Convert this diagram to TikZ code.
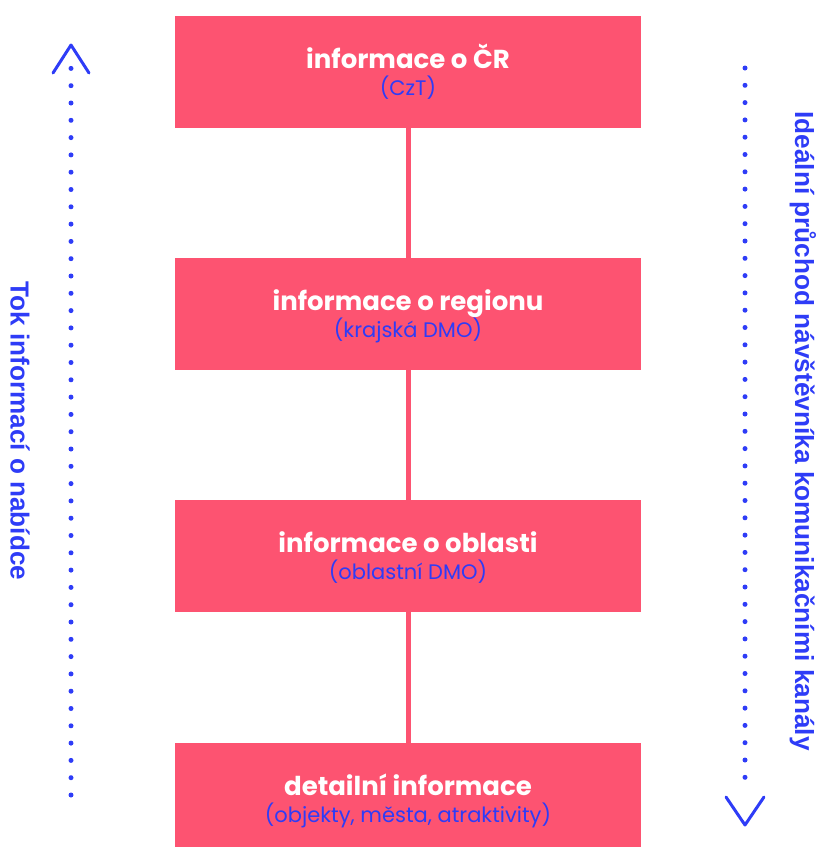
\documentclass[tikz,border=0pt]{standalone}
\usepackage{fontspec}
\setmainfont{Poppins}
\newfontfamily\sidefont{Liberation Sans}
\definecolor{boxpink}{HTML}{FD5371}
\definecolor{inkblue}{HTML}{2E3CF7}
\begin{document}
\begin{tikzpicture}[x=1pt,y=-1pt,
  infobox/.style={fill=boxpink, draw=none, minimum width=466pt, minimum height=112pt, inner sep=0pt},
  titletext/.style={text=white, anchor=base, inner sep=0pt, font=\fontsize{26}{30}\selectfont\bfseries},
  subtext/.style={text=inkblue, anchor=base, inner sep=0pt, font=\fontsize{21}{26}\selectfont},
  link/.style={draw=boxpink, line width=5pt},
  dots/.style={draw=inkblue, line width=5pt, line cap=round, dash pattern=on 0pt off 17.3pt},
  chev/.style={draw=inkblue, line width=3pt, line cap=round, line join=round},
  sidelabel/.style={text=inkblue, rotate=-90, inner sep=0pt}
]
\useasboundingbox (0,0) rectangle (819,847);
\node[infobox] (b1) at (408,72) {};
\node[infobox] (b2) at (408,314) {};
\node[infobox] (b3) at (408,556) {};
\node[infobox] (b4) at (408,799) {};
\node[titletext] (t1) at ([yshift=-53pt]b1.north) {informace o ČR};
\node[subtext] (s1) at ([yshift=-80pt]b1.north) {(CzT)};
\node[titletext] (t2) at ([yshift=-53pt]b2.north) {informace o regionu};
\node[subtext] (s2) at ([yshift=-80pt]b2.north) {(krajská DMO)};
\node[titletext] (t3) at ([yshift=-53pt]b3.north) {informace o oblasti};
\node[subtext] (s3) at ([yshift=-80pt]b3.north) {(oblastní DMO)};
\node[titletext] (t4) at ([yshift=-53pt]b4.north) {detailní informace};
\node[subtext] (s4) at ([yshift=-80pt]b4.north) {(objekty, města, atraktivity)};
\draw[link] (b1.south) -- (b2.north);
\draw[link] (b2.south) -- (b3.north);
\draw[link] (b3.south) -- (b4.north);
% left arrow (upwards)
\coordinate (lt) at (71,66);
\coordinate (lb) at (71,795);
\draw[dots] (lb) -- (lt);
\coordinate (lapex) at (71,45);
\draw[chev] (53,73) -- (lapex) -- (89,73);
% right arrow (downwards)
\coordinate (rt) at (745,68);
\coordinate (rb) at (745,785);
\draw[dots] (rt) -- (rb);
\coordinate (rapex) at (745,825);
\draw[chev] (726,797) -- (rapex) -- (764,797);
\node[sidelabel] (ll) at (20,431) {\sidefont\bfseries\fontsize{26.1}{29}\selectfont Tok informací o nabídce};
\node[sidelabel] (rl) at (803,431) {\sidefont\bfseries\fontsize{26.2}{29}\selectfont Ideální průchod návštěvníka komunikačními kanály};
\end{tikzpicture}
\end{document}
